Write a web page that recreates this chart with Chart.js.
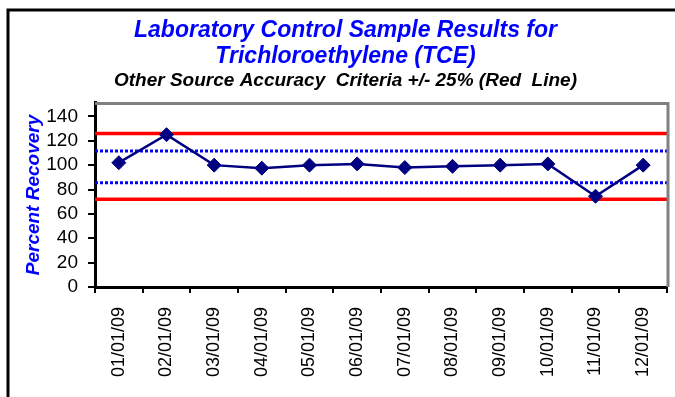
<!DOCTYPE html>
<html>
<head>
<meta charset="utf-8">
<title>LCS Results - TCE</title>
<script src="https://cdn.jsdelivr.net/npm/chart.js@4.4.1/dist/chart.umd.min.js"></script>
<style>
  html, body { margin: 0; padding: 0; background: #fff; }
  #wrap { position: relative; width: 675px; height: 397px; }
</style>
</head>
<body>
<div id="wrap"><canvas id="lcs"></canvas></div>
<script>
// monthly LCS results, percent recovery
const sampleDates = ['01/01/09', '02/01/09', '03/01/09', '04/01/09', '05/01/09', '06/01/09',
    '07/01/09', '08/01/09', '09/01/09', '10/01/09', '11/01/09', '12/01/09'];
const recovery = [102, 125, 100, 97.5, 100, 101, 98, 99, 100, 101, 74.5, 100];

// accuracy criteria (red) and control limits (blue dotted)
const criteriaLimits = [126, 72];
const controlLimits = [111.5, 85.5];

const yTicks = [0, 20, 40, 60, 80, 100, 120, 140];

const NAVY = '#000080';
const BLUE = '#0000FF';
const FONT = 'Arial, "Liberation Sans", sans-serif';

// frame around the whole chart + grey border on top/right of plot
const frames = {
    id: 'frames',
    beforeDraw(chart) {
        const ctx = chart.ctx;
        ctx.save();
        ctx.strokeStyle = '#000';
        ctx.lineWidth = 3;
        ctx.beginPath();
        ctx.moveTo(8, 397);
        ctx.lineTo(8, 10);
        ctx.lineTo(675, 10);
        ctx.stroke();
        ctx.restore();
    },
    afterDraw(chart) {
        const a = chart.chartArea;
        const ctx = chart.ctx;
        ctx.save();
        ctx.strokeStyle = '#808080';
        ctx.lineWidth = 3;
        ctx.beginPath();
        ctx.moveTo(a.left, a.top + 0.5);
        ctx.lineTo(a.right + 1, a.top + 0.5);
        ctx.lineTo(a.right + 1, a.bottom);
        ctx.stroke();
        ctx.restore();
    }
};

// horizontal limit lines across the full plot width
const limitLines = {
    id: 'limitLines',
    beforeDatasetsDraw(chart) {
        const a = chart.chartArea;
        const y = chart.scales.y;
        const ctx = chart.ctx;
        ctx.save();
        ctx.strokeStyle = '#FF0000';
        ctx.lineWidth = 3.5;
        criteriaLimits.forEach(v => {
            const py = y.getPixelForValue(v);
            ctx.beginPath();
            ctx.moveTo(a.left, py);
            ctx.lineTo(a.right, py);
            ctx.stroke();
        });
        ctx.strokeStyle = BLUE;
        ctx.lineWidth = 3;
        ctx.setLineDash([3, 2]);
        controlLimits.forEach(v => {
            const py = y.getPixelForValue(v);
            ctx.beginPath();
            ctx.moveTo(a.left, py);
            ctx.lineTo(a.right, py);
            ctx.stroke();
        });
        ctx.restore();
    }
};

const ctx = document.getElementById('lcs').getContext('2d');
const lcsChart = new Chart(ctx, {
    type: 'line',
    data: {
        labels: sampleDates,
        datasets: [{
            label: 'Percent Recovery',
            data: recovery,
            borderColor: NAVY,
            borderWidth: 2.5,
            backgroundColor: NAVY,
            pointStyle: 'rectRot',
            pointRadius: 7,
            pointBorderWidth: 1,
            pointBorderColor: NAVY,
            pointBackgroundColor: NAVY,
            lineTension: 0,
            fill: false
        }]
    },
    options: {
        responsive: true,
        maintainAspectRatio: false,
        animation: false,
        layout: { padding: { left: 22, right: 6, top: 0, bottom: 0 } },
        plugins: {
            legend: { display: false },
            tooltip: { enabled: false },
            title: {
                display: true,
                text: ['Laboratory Control Sample Results for', 'Trichloroethylene (TCE)'],
                color: BLUE,
                font: { family: FONT, size: 23, weight: 'bold', style: 'italic', lineHeight: 1.13 },
                padding: { top: 18, bottom: 0 }
            },
            subtitle: {
                display: true,
                text: 'Other Source Accuracy  Criteria +/- 25% (Red  Line)',
                color: '#000',
                font: { family: FONT, size: 19, weight: 'bold', style: 'italic', lineHeight: 1 },
                padding: { top: 1, bottom: 13 }
            }
        },
        scales: {
            x: {
                offset: true,
                grid: {
                    offset: true,
                    drawOnChartArea: false,
                    tickLength: 6,
                    tickColor: '#000',
                    tickWidth: 2,
                    lineWidth: 2
                },
                border: { display: true, color: '#000', width: 3 },
                ticks: {
                    color: '#000',
                    minRotation: 90,
                    maxRotation: 90,
                    padding: 14,
                    font: { family: FONT, size: 18 }
                },
                afterFit(scale) {
                    scale.height = 110;
                    scale.paddingLeft = 0;
                    scale.paddingRight = 0;
                }
            },
            y: {
                min: 0,
                max: 151,
                afterBuildTicks(scale) {
                    scale.ticks = yTicks.map(v => ({ value: v }));
                },
                grid: {
                    drawOnChartArea: false,
                    tickLength: 7,
                    tickColor: '#000',
                    tickWidth: 2,
                    lineWidth: 2
                },
                border: { display: true, color: '#000', width: 3 },
                ticks: {
                    color: '#000',
                    padding: 10,
                    font: { family: FONT, size: 19 }
                },
                title: {
                    display: true,
                    text: 'Percent Recovery',
                    color: BLUE,
                    font: { family: FONT, size: 19, weight: 'bold', style: 'italic' },
                    padding: 0
                },
                afterFit(scale) { scale.width = 73; }
            }
        }
    },
    plugins: [frames, limitLines]
});
</script>
</body>
</html>
